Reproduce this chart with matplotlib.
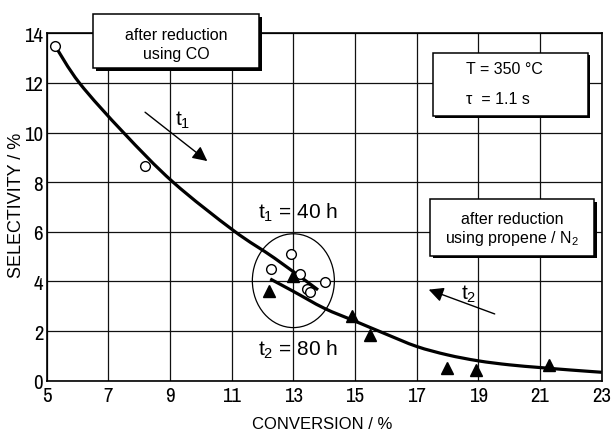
import matplotlib
matplotlib.use("Agg")
import matplotlib.pyplot as plt
from matplotlib import font_manager
from matplotlib.path import Path
from matplotlib.patches import PathPatch, Ellipse, Rectangle

# ---- data -------------------------------------------------------------
# catalyst reduced with CO (open circles) and with propene / N2 (triangles)
co_conv = [5.27, 8.19, 12.28, 12.92, 13.22, 13.44, 13.53, 14.01]
co_sel = [13.5, 8.67, 4.5, 5.11, 4.3, 3.70, 3.59, 3.97]

pr_conv = [12.2, 13.0, 14.9, 15.47, 17.99, 18.93, 21.29]
pr_sel = [3.63, 4.23, 2.6, 1.84, 0.5, 0.44, 0.65]

# trend lines through the two data sets
fit1_conv = [5.27, 6.06, 7.49, 9.1, 11.06, 12.4, 13.8]
fit1_sel = [13.5, 12.0, 10.0, 8.0, 6.05, 4.93, 3.66]

fit2_conv = [12.25, 13.0, 14.0, 15.0, 16.0, 17.0, 18.0, 19.0, 20.0, 21.0, 22.0, 23.0]
fit2_sel = [4.1, 3.6, 2.92, 2.4, 1.88, 1.38, 1.04, 0.8, 0.64, 0.53, 0.43, 0.34]

x_ticks = [5, 7, 9, 11, 13, 15, 17, 19, 21, 23]
y_ticks = [0, 2, 4, 6, 8, 10, 12, 14]


def pick(names):
    avail = {f.name for f in font_manager.fontManager.ttflist}
    for n in names:
        if n in avail:
            return n
    return "DejaVu Sans"


SANS = pick(["Liberation Sans", "Arial", "DejaVu Sans"])
NARROW = pick(["Archivo Narrow", "Roboto Condensed", "PT Sans Narrow", "Liberation Sans"])

plt.rcParams["font.family"] = [SANS, "DejaVu Sans"]
plt.rcParams["mathtext.fontset"] = "custom"
plt.rcParams["mathtext.rm"] = SANS
plt.rcParams["mathtext.it"] = SANS
plt.rcParams["mathtext.default"] = "regular"

W, H = 612, 439
fig = plt.figure(figsize=(W / 100, H / 100), dpi=100)
fig.patch.set_facecolor("white")

ax_l, ax_r, ax_t, ax_b = 46.7, 601.7, 34.3, 381.7
ax = fig.add_axes([ax_l / W, 1 - ax_b / H, (ax_r - ax_l) / W, (ax_b - ax_t) / H])
ax.set_xlim(5, 23)
ax.set_ylim(0, 14)
ax.set_xticks(x_ticks)
ax.set_yticks(y_ticks)
ax.grid(True, color="#111111", lw=0.9)
ax.set_axisbelow(True)
for s in ax.spines.values():
    s.set_linewidth(1.2)
    s.set_color("black")
ax.tick_params(length=0, labelsize=15, pad=4)
ax.tick_params(axis="y", pad=2.5)
for lab in ax.get_xticklabels() + ax.get_yticklabels():
    lab.set_fontfamily(NARROW)


def smooth_path(xs, ys):
    """Catmull-Rom curve through the given points, as cubic Bezier segments."""
    pts = list(zip(xs, ys))
    verts = [pts[0]]
    codes = [Path.MOVETO]
    n = len(pts)
    for i in range(n - 1):
        p0 = pts[i - 1] if i > 0 else pts[i]
        p1 = pts[i]
        p2 = pts[i + 1]
        p3 = pts[i + 2] if i + 2 < n else pts[i + 1]
        c1 = (p1[0] + (p2[0] - p0[0]) / 6, p1[1] + (p2[1] - p0[1]) / 6)
        c2 = (p2[0] - (p3[0] - p1[0]) / 6, p2[1] - (p3[1] - p1[1]) / 6)
        verts += [c1, c2, p2]
        codes += [Path.CURVE4] * 3
    return Path(verts, codes)


for xs, ys in ((fit1_conv, fit1_sel), (fit2_conv, fit2_sel)):
    ax.add_patch(PathPatch(smooth_path(xs, ys), fill=False, lw=2.3,
                           edgecolor="black", capstyle="butt", zorder=3))

ax.plot(co_conv, co_sel, "o", ms=7, mfc="white", mec="black", mew=1.0, zorder=4)
ax.plot(pr_conv, pr_sel, "^", ms=8, mfc="black", mec="black", zorder=4)

# ring around the points after long time on stream
ax.add_patch(Ellipse((13.0, 4.03), 2.66, 3.78, fill=False, lw=0.9,
                     edgecolor="black", zorder=3))

# time-on-stream arrows
arrow = dict(arrowstyle="-|>", mutation_scale=22, lw=1.0, color="black",
             shrinkA=0, shrinkB=0)
ax.annotate("", xy=(10.21, 8.85), xytext=(8.19, 10.82), arrowprops=arrow, zorder=5)
ax.annotate("", xy=(17.39, 3.67), xytext=(19.53, 2.69), arrowprops=arrow, zorder=5)
ax.text(9.4, 10.55, r"t$_1$", fontsize=15, ha="center", va="center")
ax.text(18.69, 3.52, r"t$_2$", fontsize=15, ha="center", va="center")

ax.text(13.16, 6.8, r"t$_1$ = 40 h", fontsize=15, ha="center", va="center", zorder=5)
ax.text(13.16, 1.27, r"t$_2$ = 80 h", fontsize=15, ha="center", va="center", zorder=5)


def fig_box(x0, y0, x1, y1):
    sh = 2.6
    fig.add_artist(Rectangle(((x0 + sh) / W, 1 - (y1 + sh) / H), (x1 - x0) / W,
                             (y1 - y0) / H, transform=fig.transFigure,
                             facecolor="black", edgecolor="black", lw=0, zorder=10))
    fig.add_artist(Rectangle((x0 / W, 1 - y1 / H), (x1 - x0) / W, (y1 - y0) / H,
                             transform=fig.transFigure, facecolor="white",
                             edgecolor="black", lw=1.1, zorder=11))


def fig_text(x, y, s, **kw):
    fig.text(x / W, 1 - y / H, s, zorder=12, va="center", **kw)


fig_box(93, 15, 259, 69)
fig_text(176, 35, "after reduction", fontsize=11.5, ha="center")
fig_text(176, 55, "using CO", fontsize=11.5, ha="center")

fig_box(432.5, 53.5, 587.5, 116.5)
fig_text(466, 70, "T = 350 °C", fontsize=11.5, ha="left")
fig_text(466, 99, "τ  = 1.1 s", fontsize=11.5, ha="left")

fig_box(430, 200, 594.5, 256.5)
fig_text(512.5, 219, "after reduction", fontsize=11.5, ha="center")
fig_text(512.5, 238.5, r"using propene / N$_2$", fontsize=11.5, ha="center")

fig_text(322, 425, "CONVERSION / %", fontsize=12, ha="center")
fig.text(17 / W, 1 - 205 / H, "SELECTIVITY / %", fontsize=13, ha="center",
         va="center", rotation=90)

fig.savefig("out.png", dpi=100, facecolor="white")
